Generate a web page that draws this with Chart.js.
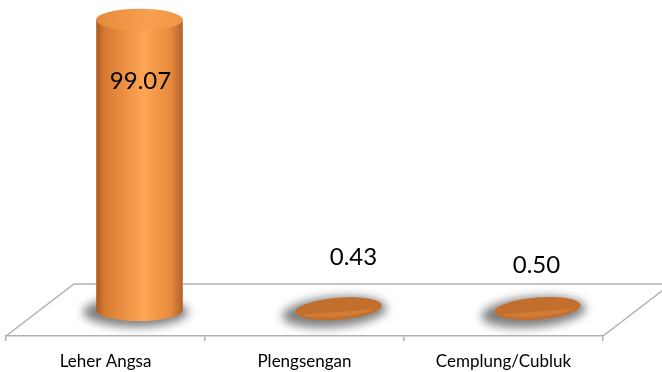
<!DOCTYPE html>
<html>
<head>
<meta charset="utf-8">
<script src="https://cdn.jsdelivr.net/npm/chart.js@4"></script>
<style>
  html, body { margin: 0; padding: 0; background: #fff; }
  #wrap { width: 662px; height: 372px; }
</style>
</head>
<body>
<div id="wrap"><canvas id="myChart" width="662" height="372"></canvas></div>
<script>
// data
var categories = ['Leher Angsa', 'Plengsengan', 'Cemplung/Cubluk'];
var values = [99.07, 0.43, 0.50];
var valueText = ['99.07', '0.43', '0.50'];

// depth of the 3d floor (px)
var depthX = 68;
var depthY = 52;

// floor + cylinders, drawn around the real bar elements
var cylinders = {
	id: 'cylinders',
	beforeDatasetsDraw: function(chart) {
		var c = chart.ctx;
		var a = chart.chartArea;
		c.save();
		c.strokeStyle = '#b0b0b0';
		c.lineWidth = 1.5;
		c.beginPath();
		c.moveTo(a.left, a.bottom);
		c.lineTo(a.left + depthX, a.bottom - depthY);
		c.lineTo(a.right + depthX, a.bottom - depthY);
		c.moveTo(a.right, a.bottom);
		c.lineTo(a.right + depthX, a.bottom - depthY);
		c.stroke();
		c.restore();
	},
	afterDatasetsDraw: function(chart, args, opts) {
		var c = chart.ctx;
		var yScale = chart.scales.y;
		var bars = chart.getDatasetMeta(0).data;
		bars.forEach(function(bar, i) {
			var cx = bar.x + depthX / 2;
			var rx = bar.width / 2;
			var ry = 11;
			var base = yScale.getPixelForValue(0) - depthY / 2;
			var top = bar.y - depthY / 2;
			var tall = base - top > 6;
			var tilt = tall ? 0 : -0.08;

			// soft grey shadow on the floor
			c.save();
			c.filter = 'blur(5px)';
			c.fillStyle = 'rgba(95,95,95,0.8)';
			c.beginPath();
			c.ellipse(cx - 4, base + 2, rx + 9, ry + 4, tilt, 0, Math.PI * 2);
			c.fill();
			c.restore();

			c.save();
			if (tall) {
				var g = c.createLinearGradient(cx - rx, 0, cx + rx, 0);
				g.addColorStop(0, '#a95a22');
				g.addColorStop(0.1, '#d97b33');
				g.addColorStop(0.55, '#fda653');
				g.addColorStop(0.85, '#e98b3d');
				g.addColorStop(1, '#b2632a');
				c.fillStyle = g;
				c.beginPath();
				c.moveTo(cx - rx, top);
				c.lineTo(cx - rx, base);
				c.ellipse(cx, base, rx, ry, 0, Math.PI, 0, true);
				c.lineTo(cx + rx, top);
				c.closePath();
				c.fill();

				var tg = c.createLinearGradient(cx - rx, top - ry, cx + rx, top + ry);
				tg.addColorStop(0, '#e4893b');
				tg.addColorStop(0.6, '#f9a050');
				tg.addColorStop(1, '#ef9445');
				c.fillStyle = tg;
				c.beginPath();
				c.ellipse(cx, top, rx, ry, 0, 0, Math.PI * 2);
				c.fill();
			} else {
				c.fillStyle = '#c26f2e';
				c.beginPath();
				c.ellipse(cx, top, rx, ry, tilt, 0, Math.PI * 2);
				c.fill();
				c.fillStyle = '#d27b35';
				c.beginPath();
				c.ellipse(cx, top + 3, rx - 8, ry - 6, tilt, 0, Math.PI);
				c.fill();
			}
			c.restore();

			// value label
			var nudge = opts.nudge[i];
			c.save();
			c.font = '24px Lato';
			c.fillStyle = '#000';
			c.textAlign = 'center';
			c.textBaseline = 'middle';
			var ly = tall ? top + nudge[1] : base + nudge[1];
			c.fillText(valueText[i], cx + nudge[0], ly);
			c.restore();
		});
	}
};

var ctx = document.getElementById('myChart').getContext('2d');
var myChart = new Chart(ctx, {
	type: 'bar',
	data: {
		labels: categories,
		datasets: [{
			data: values,
			backgroundColor: 'rgba(0,0,0,0)',
			borderWidth: 0,
			barPercentage: 0.87,
			categoryPercentage: 0.5
		}]
	},
	options: {
		responsive: false,
		animation: false,
		events: [],
		layout: { padding: { left: 6, right: 59, top: 43, bottom: 0 } },
		plugins: {
			legend: { display: false },
			tooltip: { enabled: false },
			cylinders: { nudge: [[1, 62], [15, -53], [-1, -45]] }
		},
		scales: {
			x: {
				offset: true,
				afterFit: function(scale) { scale.height = 36; },
				grid: {
					offset: true,
					drawOnChartArea: false,
					drawTicks: true,
					tickLength: 5,
					color: '#b0b0b0',
					lineWidth: 1.5
				},
				border: { display: true, color: '#b0b0b0', width: 1.5 },
				ticks: {
					color: '#000',
					padding: 10,
					maxRotation: 0,
					font: { family: 'Lato', size: 17 }
				}
			},
			y: {
				display: false,
				min: 0,
				max: 100
			}
		}
	},
	plugins: [cylinders]
});
</script>
</body>
</html>
